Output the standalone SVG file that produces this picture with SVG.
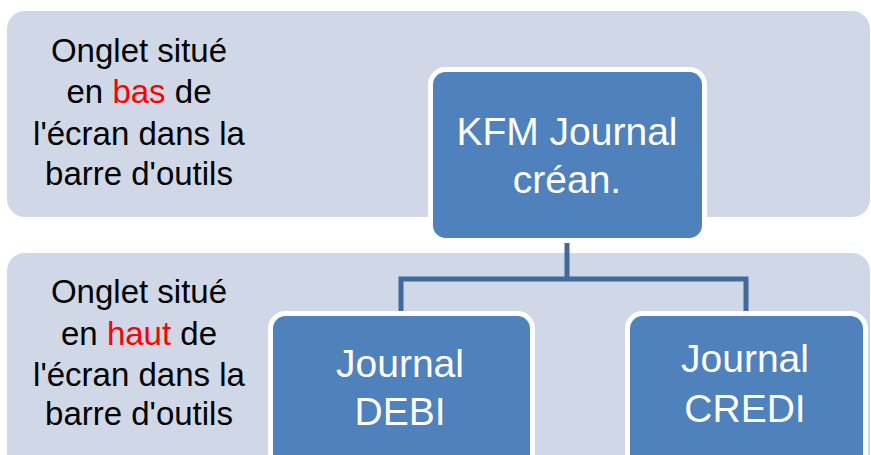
<svg xmlns="http://www.w3.org/2000/svg" width="871" height="455" viewBox="0 0 871 455">
<style>
.band{fill:#D0D8E8;}
.box{fill:#4F81BD;stroke:#FFFFFF;stroke-width:5;}
.lt{font-family:"Liberation Sans",Arial,sans-serif;font-size:33px;fill:#000;text-anchor:middle;}
.bt{font-family:"Liberation Sans",Arial,sans-serif;font-size:39px;fill:#FFFFFF;text-anchor:middle;}
.red{fill:#FF0000;}
.conn{fill:none;stroke:#41699C;stroke-width:5;}
</style>
<rect width="871" height="455" fill="#FFFFFF"/>
<g id="band-top">
<rect class="band" x="7" y="11" width="863" height="206" rx="18"/>
<text class="lt" x="139" y="62">Onglet situé</text>
<text class="lt" x="139" y="103">en <tspan class="red">bas</tspan> de</text>
<text class="lt" x="139" y="145">l'écran dans la</text>
<text class="lt" x="139" y="185">barre d'outils</text>
</g>
<g id="band-bottom">
<rect class="band" x="7" y="253" width="863" height="230" rx="18"/>
<text class="lt" x="139" y="303">Onglet situé</text>
<text class="lt" x="139" y="345">en <tspan class="red">haut</tspan> de</text>
<text class="lt" x="139" y="386">l'écran dans la</text>
<text class="lt" x="139" y="425">barre d'outils</text>
</g>
<g id="connectors">
<path class="conn" d="M567 243 V279 M401 312 V279 H746 V312"/>
</g>
<g id="node-kfm">
<rect class="box" x="430.5" y="69.5" width="274" height="171" rx="15"/>
<text class="bt" x="567" y="145">KFM Journal</text>
<text class="bt" x="567" y="193">créan.</text>
</g>
<g id="node-debi">
<rect class="box" x="270.5" y="313.5" width="262" height="180" rx="15"/>
<text class="bt" x="400" y="377">Journal</text>
<text class="bt" x="400" y="425">DEBI</text>
</g>
<g id="node-credi">
<rect class="box" x="627.5" y="313.5" width="238" height="180" rx="15"/>
<text class="bt" x="745" y="372">Journal</text>
<text class="bt" x="745" y="422">CREDI</text>
</g>
</svg>
